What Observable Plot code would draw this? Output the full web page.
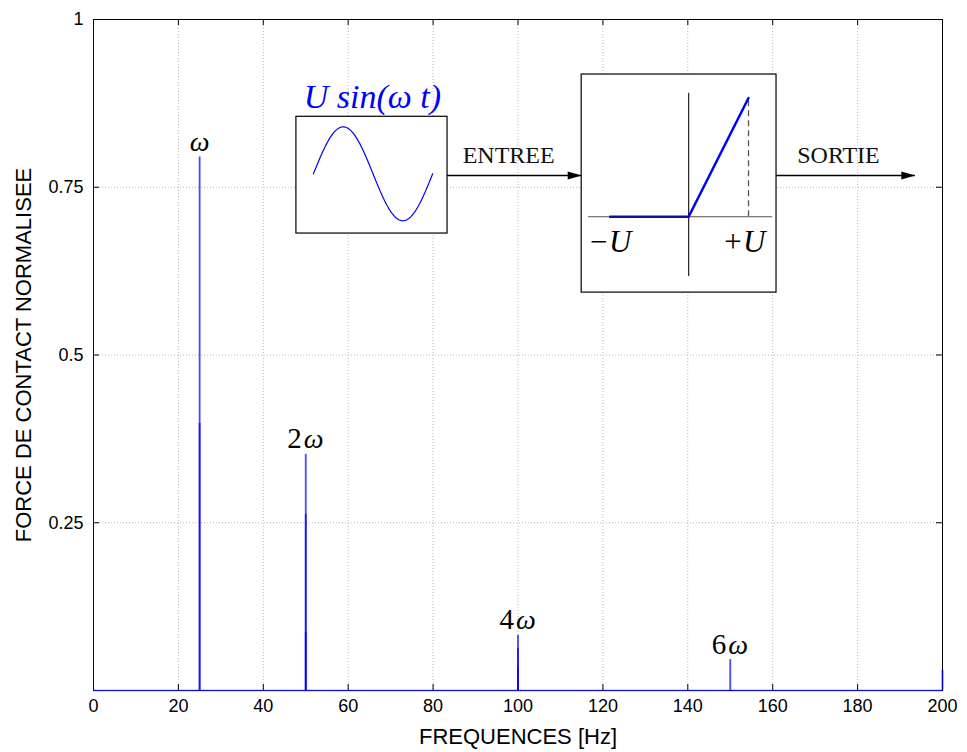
<!DOCTYPE html>
<html>
<head>
<meta charset="utf-8">
<script src="https://cdn.jsdelivr.net/npm/d3@7"></script>
<script src="https://cdn.jsdelivr.net/npm/@observablehq/plot@0.6"></script>
<style>
  html, body { margin: 0; padding: 0; background: white; }
</style>
</head>
<body>
<div id="chart"></div>
<script>
// ---- spectrum data (frequency bins, normalized contact force) ----
const binFreq = [0, 25, 25, 50, 50, 50, 100, 100, 100, 150, 200];
const binAmp  = [1.0, 0.795, 0.398, 0.352, 0.262, 0.086, 0.082, 0.063, 0.034, 0.046, 0.03];

// ---- harmonic labels ----
const harmFreq  = [25, 50, 100, 150];
const harmAmp   = [0.795, 0.352, 0.082, 0.046];
const harmDigit = ["", "2", "4", "6"];

// ---- axis ticks ----
const xTicks = [0, 20, 40, 60, 80, 100, 120, 140, 160, 180, 200];
const yTicks = [0, 0.25, 0.5, 0.75, 1];
const yTickLabels = ["", "0.25", "0.5", "0.75", "1"];

// ---- inset diagram (in chart units) ----
const sineBox = {x1: 47.8, x2: 83.4, y1: 0.681, y2: 0.855};
const sineSpan = {x0: 51.8, x1: 79.9, yc: 0.770, amp: 0.070};
const clipBox = {x1: 115.0, x2: 160.9, y1: 0.593, y2: 0.918};
const arrowsX1 = [83.4, 160.9];
const arrowsX2 = [115.0, 193.6];
const arrowY = 0.7675;
const arrowText = ["ENTREE", "SORTIE"];
const arrowTextX = [97.8, 175.5];
const arrowTextY = 0.797;
const clipAxisH = {x1: 116.6, x2: 160.0, y: 0.706};
const clipAxisV = {x: 140.2, y1: 0.617, y2: 0.890};
const clipFlatX = [121.7, 140.2];
const clipRampX = [140.2, 154.3];
const clipRampY = [0.706, 0.883];
const clipLabels = ["\u2212U", "+U"];
const clipLabelX = [121.6, 153.2];
const clipLabelY = 0.669;
const inputLabel = "U sin(\u03C9 t)";
const inputLabelPos = {x: 65.7, y: 0.884};

const bins = binFreq.map((f, i) => ({f, a: binAmp[i]}));
const harms = harmFreq.map((f, i) => ({f, a: harmAmp[i], d: harmDigit[i]}));
const sinePts = d3.range(0, 101).map(k => {
  const t = k / 100;
  return {x: sineSpan.x0 + t * (sineSpan.x1 - sineSpan.x0), y: sineSpan.yc + sineSpan.amp * Math.sin(2 * Math.PI * t)};
});
const arrows = arrowsX1.map((x1, i) => ({x1, x2: arrowsX2[i], y: arrowY, t: arrowText[i], tx: arrowTextX[i]}));

const arrowHead = {
  draw(ctx) {
    ctx.moveTo(-14, -4);
    ctx.lineTo(0, 0);
    ctx.lineTo(-14, 4);
    ctx.closePath();
  }
};

const serif = "'Liberation Serif', 'DejaVu Serif', serif";

const chart = Plot.plot({
  width: 967,
  height: 752,
  marginLeft: 93,
  marginRight: 25,
  marginTop: 19,
  marginBottom: 62,
  x: {domain: [0, 200]},
  y: {domain: [0, 1]},
  style: {fontFamily: "'Liberation Sans', Arial, sans-serif", fontSize: "18px", background: "white", color: "black"},
  marks: [
    Plot.gridX(xTicks.slice(1, -1), {stroke: "#b8b8b8", strokeOpacity: 1, strokeDasharray: "1,2"}),
    Plot.gridY(yTicks.slice(1, -1), {stroke: "#b8b8b8", strokeOpacity: 1, strokeDasharray: "1,2"}),
    Plot.frame({stroke: "black"}),
    // inward ticks
    Plot.ruleX(xTicks, {x: d => d, y1: 0, y2: 0, insetTop: -6, stroke: "black"}),
    Plot.ruleX(xTicks, {x: d => d, y1: 1, y2: 1, insetBottom: -6, stroke: "black"}),
    Plot.ruleY(yTicks, {y: d => d, x1: 0, x2: 0, insetRight: -6, stroke: "black"}),
    Plot.ruleY(yTicks, {y: d => d, x1: 200, x2: 200, insetLeft: -6, stroke: "black"}),
    // spectrum
    Plot.ruleY([0], {stroke: "#1a1aff", strokeOpacity: 0.75, strokeWidth: 1.5}),
    Plot.ruleX(bins.filter(d => d.f === 0), {x: "f", y1: 0, y2: "a", stroke: "blue", strokeWidth: 1, strokeOpacity: 0.3}),
    Plot.ruleX(bins.filter(d => d.f !== 0), {x: "f", y1: 0, y2: "a", stroke: "blue", strokeWidth: 1.8, strokeOpacity: 0.72}),
    // axes
    Plot.axisX(xTicks, {tickSize: 0, tickPadding: 9, tickFormat: d => String(d), fontSize: 18,
      label: "FREQUENCES [Hz]", labelAnchor: "center", labelArrow: "none", labelOffset: 53}),
    Plot.axisY(yTicks, {tickSize: 0, tickPadding: 10, tickFormat: (d, i) => yTickLabels[yTicks.indexOf(d)], fontSize: 18,
      label: "FORCE DE CONTACT NORMALISEE", labelAnchor: "center", labelArrow: "none", labelOffset: 78}),
    // harmonic labels
    Plot.text(harms.filter(d => d.d === ""), {x: "f", y: "a", text: () => "\u03C9", dy: -6, lineAnchor: "bottom",
      fontFamily: serif, fontStyle: "italic", fontSize: 28, fill: "black"}),
    Plot.text(harms.filter(d => d.d !== ""), {x: "f", y: "a", text: "d", dx: -4, dy: -6, lineAnchor: "bottom", textAnchor: "end",
      fontFamily: serif, fontSize: 29, fill: "black"}),
    Plot.text(harms.filter(d => d.d !== ""), {x: "f", y: "a", text: () => "\u03C9", dx: -2, dy: -6, lineAnchor: "bottom", textAnchor: "start",
      fontFamily: serif, fontStyle: "italic", fontSize: 28, fill: "black"}),
    // inset: sine box
    Plot.rect([sineBox], {x1: "x1", x2: "x2", y1: "y1", y2: "y2", fill: "white", stroke: "black", strokeWidth: 1.2}),
    Plot.line(sinePts, {x: "x", y: "y", stroke: "blue", strokeWidth: 1.2}),
    Plot.text([inputLabelPos], {x: "x", y: "y", text: () => inputLabel, fontFamily: serif, fontStyle: "italic", fontSize: 34, fill: "blue"}),
    // arrows
    Plot.ruleY(arrows, {x1: "x1", x2: "x2", y: "y", stroke: "black", strokeWidth: 1.3}),
    Plot.dot(arrows, {x: "x2", y: "y", symbol: arrowHead, fill: "black", stroke: "none", r: 5}),
    Plot.text(arrows, {x: "tx", y: () => arrowTextY, text: "t", fontFamily: serif, fontSize: 24, fill: "#111"}),
    // inset: clipping function box
    Plot.rect([clipBox], {x1: "x1", x2: "x2", y1: "y1", y2: "y2", fill: "white", stroke: "black", strokeWidth: 1.2}),
    Plot.ruleY([clipAxisH], {x1: "x1", x2: "x2", y: "y", stroke: "#555", strokeWidth: 1.2}),
    Plot.ruleX([clipAxisV], {x: "x", y1: "y1", y2: "y2", stroke: "#222", strokeWidth: 1.2}),
    Plot.ruleX([clipRampX[1]], {x: d => d, y1: clipRampY[0], y2: clipRampY[1], stroke: "#555", strokeWidth: 1.3, strokeDasharray: "6,4"}),
    Plot.line(clipFlatX.map(x => ({x, y: clipAxisH.y})), {x: "x", y: "y", stroke: "#10109a", strokeWidth: 2.5}),
    Plot.line(clipRampX.map((x, i) => ({x, y: clipRampY[i]})), {x: "x", y: "y", stroke: "blue", strokeWidth: 2.5}),
    Plot.text(clipLabels.map((t, i) => ({t, x: clipLabelX[i]})), {x: "x", y: () => clipLabelY, text: "t",
      fontFamily: serif, fontStyle: "italic", fontSize: 31, fill: "black"})
  ]
});

// enlarge axis titles to match the reference
chart.querySelectorAll("[aria-label='x-axis label'] text, [aria-label='y-axis label'] text").forEach(t => t.setAttribute("font-size", 22));

document.getElementById("chart").appendChild(chart);
</script>
</body>
</html>
